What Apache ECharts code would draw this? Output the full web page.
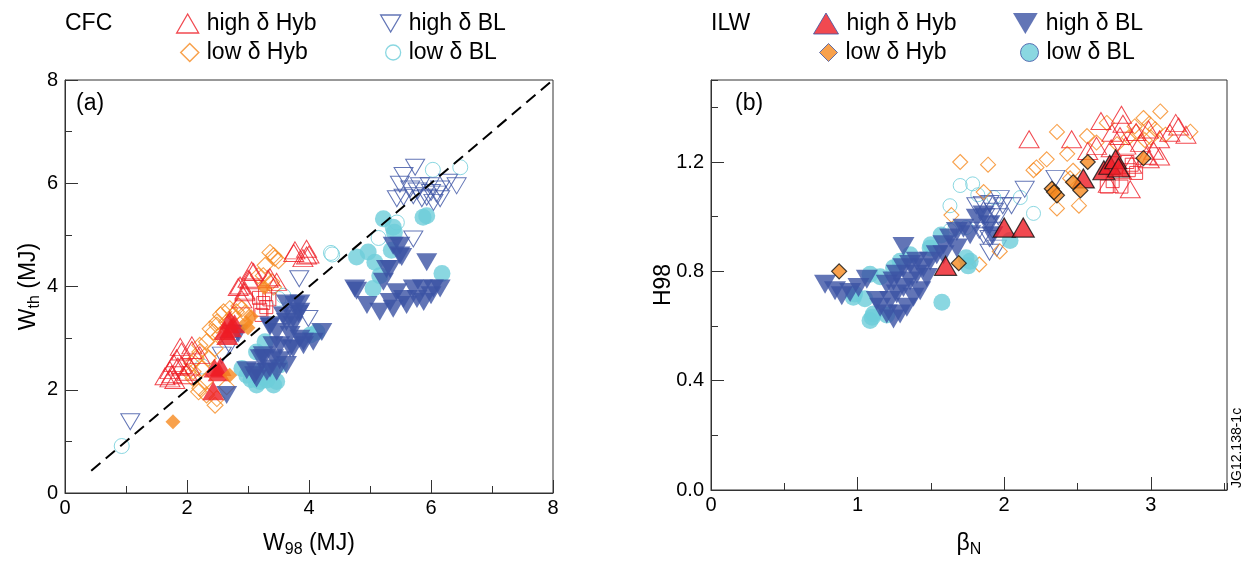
<!DOCTYPE html>
<html>
<head>
<meta charset="utf-8">
<script src="https://cdn.jsdelivr.net/npm/echarts@6/dist/echarts.min.js"></script>
<style>html,body{margin:0;padding:0;background:#fff}#c{width:1250px;height:563px}</style>
</head>
<body>
<div id="c"></div>
<script>
// ---------- Panel (a): W_th vs W98 (MJ) ----------
const aCfcHighHyb = [[1.64,2.26],[1.72,2.22],[1.72,2.38],[1.75,2.30],[1.80,2.19],[1.83,2.61],[1.89,2.83],[1.91,2.48],[1.94,2.28],[1.91,2.74],[2.05,2.45],[2.08,2.86],[2.08,2.77],[2.21,2.67],[2.00,2.35],[1.85,2.45],[1.78,2.52],
  [2.87,4.02],[2.95,3.89],[2.95,3.92],[3.00,4.15],[3.03,4.12],[3.06,4.31],[3.09,4.28],[3.33,4.15],[3.36,4.18],[3.47,4.09],[2.90,3.75],[2.84,3.99],
  [3.75,4.65],[3.77,4.70],[3.90,4.55],[3.96,4.73],[3.96,4.60],[4.00,4.62]];
const aCfcSquares = [[3.18,3.78],[3.25,3.68],[3.30,3.60],[3.20,3.55],[3.35,3.75],[3.28,3.85],[3.22,3.45]];
const aCfcLowHyb = [[2.19,1.96],[2.32,1.90],[2.46,1.70],[2.49,1.83],[2.21,2.03],[2.30,2.16],[2.10,2.22],[2.10,2.35],[2.24,2.41],[2.02,2.35],[2.08,2.51],[2.15,2.61],[2.21,2.73],[2.21,2.86],[2.35,2.61],[2.32,2.93],[2.46,2.80],[2.43,3.12],[2.38,3.18],[2.49,3.25],[2.54,3.06],[2.49,3.31],[2.65,3.31],[2.60,3.51],[2.70,3.57],[2.76,3.45],[2.81,3.51],[2.90,3.57],[2.55,3.45],[2.65,2.06],[3.17,4.21],[3.25,4.21],[3.28,4.41],[3.39,4.09],[3.42,3.99],[3.36,4.66],[3.42,4.60],[3.44,4.55],[3.50,4.50],[2.85,3.62],[2.95,3.48]];
const aCfcHighBL = [[1.07,1.38],[2.57,2.67],[2.70,2.86],[2.79,3.09],[3.84,4.15],[3.99,3.38],[5.71,4.92],
  [5.74,6.31],[5.55,6.15],[5.49,5.98],[5.66,5.89],[5.82,5.95],[5.98,5.95],[6.15,5.89],[6.42,5.95],[6.28,6.02],[5.55,5.73],[5.71,5.76],[5.93,5.73],[6.04,5.63],[6.15,5.70],[5.44,5.70],[6.09,5.79],[5.85,5.70],[5.78,5.85],[6.00,5.82]];
const aCfcLowBL = [[0.93,0.91],[2.25,2.45],[3.50,3.76],[3.58,3.82],[4.36,4.65],[4.38,4.62],[5.14,4.94],[5.44,5.24],[6.03,6.26],[6.48,6.31]];
const aIlwHighHyb = [[2.43,1.98],[2.45,2.42],[2.52,2.35],[2.55,2.45],[2.62,3.15],[2.66,3.05],[2.70,3.35],[2.78,3.28],[2.72,3.20]];
const aIlwLowHyb = [[1.77,1.38],[2.70,2.28],[2.97,3.30],[3.05,3.42],[3.00,3.20],[3.27,3.98]];
const aIlwHighBL = [[2.65,1.90],[2.98,2.38],[3.14,2.35],[3.14,2.22],[3.11,2.28],[3.25,2.61],[3.25,2.67],[3.31,2.35],[3.36,2.41],[3.20,2.61],[3.42,2.61],[3.41,2.86],[3.52,2.57],[3.52,2.86],[3.47,3.12],[3.36,3.22],[3.36,3.25],[3.63,3.31],[3.58,3.44],[3.63,3.67],[3.74,3.25],[3.74,3.38],[3.77,3.64],[3.83,3.47],[3.85,3.67],[3.85,3.51],[3.69,2.80],[3.74,2.80],[3.69,3.06],[3.85,2.99],[3.91,2.86],[3.91,2.93],[4.07,2.93],[4.21,3.12],[3.63,2.48],[3.47,2.35],[2.84,3.09],
  [4.75,3.96],[4.78,3.92],[4.95,3.64],[5.16,3.51],[5.22,4.09],[5.27,4.34],[5.33,4.34],[5.33,3.70],[5.38,3.57],[5.38,4.79],[5.44,3.89],[5.49,4.79],[5.49,4.60],[5.52,4.57],[5.55,3.76],[5.60,3.64],[5.71,3.96],[5.77,3.76],[5.86,3.96],[5.88,3.70],[5.93,4.47],[6.00,3.83],[6.04,3.96],[6.15,3.96]];
const aIlwLowBL = [[2.90,2.41],[2.98,2.28],[3.14,2.09],[3.20,2.16],[3.31,2.19],[3.42,2.09],[3.47,2.16],[3.20,2.35],[3.36,2.35],[3.14,2.73],[3.28,2.93],[3.52,2.48],[4.02,3.06],[4.13,3.12],[3.05,2.20],[3.25,2.25],
  [4.78,4.57],[4.97,4.67],[5.08,4.47],[5.16,4.21],[5.05,3.96],[5.22,5.31],[5.38,5.15],[5.35,4.70],[5.40,5.05],[5.87,5.34],[5.93,5.37],[6.18,4.25]];
const aUnityLine = [0.43, 7.95];

// ---------- Panel (b): H98 vs beta_N ----------
const bCfcHighHyb = [[2.17,1.283],[2.46,1.283],[2.57,1.24],[2.63,1.259],[2.73,1.25],[2.735,1.307],[2.79,1.295],[2.80,1.373],[2.81,1.34],[2.83,1.26],[2.87,1.19],[2.80,1.17],[2.86,1.10],[2.90,1.31],[2.985,1.319],[2.97,1.223],[2.99,1.21],[3.02,1.241],[3.06,1.283],[3.06,1.22],[3.13,1.307],[3.17,1.343],[3.19,1.33],[3.24,1.30],[2.71,1.12],[2.66,1.35],[2.93,1.27]];
const bCfcSquares = [[2.70,1.11],[2.74,1.13],[2.80,1.11],[2.85,1.17],[2.87,1.19],[2.90,1.16],[2.84,1.20]];
const bCfcLowHyb = [[1.64,1.006],[1.70,1.20],[1.83,0.825],[1.86,1.09],[1.89,1.19],[1.97,0.873],[2.20,1.17],[2.22,1.18],[2.29,1.21],[2.36,1.31],[2.36,1.03],[2.43,1.23],[2.45,1.14],[2.47,1.168],[2.51,1.04],[2.565,1.295],[2.63,1.271],[2.70,1.343],[2.77,1.265],[2.89,1.33],[2.90,1.31],[2.95,1.361],[2.96,1.28],[2.99,1.34],[3.03,1.32],[3.065,1.385],[3.27,1.311],[3.10,1.30],[3.00,1.29],[2.85,1.29]];
const bCfcHighBL = [[1.81,1.04],[1.83,0.95],[1.855,1.045],[1.86,0.93],[1.89,0.97],[1.90,1.048],[1.90,0.92],[1.90,0.87],[1.93,1.02],[1.95,0.885],[1.96,1.0],[1.97,1.066],[1.99,1.04],[2.05,1.04],[2.14,1.10],[2.35,1.14],[1.87,1.0],[1.92,0.95]];
const bCfcLowBL = [[1.63,1.04],[1.63,0.95],[1.665,0.958],[1.70,1.114],[1.74,0.96],[1.785,1.12],[1.82,1.08],[1.93,1.07],[2.11,1.07],[2.20,1.012]];
const bIlwHighHyb = [[1.60,0.82],[2.00,0.96],[2.13,0.96],[2.54,1.14],[2.68,1.17],[2.72,1.19],[2.76,1.21],[2.78,1.18]];
const bIlwLowHyb = [[0.874,0.80],[1.69,0.83],[2.325,1.102],[2.36,1.078],[2.47,1.126],[2.52,1.096],[2.57,1.20],[2.95,1.214],[2.34,1.09]];
const bIlwHighBL = [[0.778,0.753],[0.846,0.729],[0.892,0.711],[0.949,0.723],[1.006,0.741],[1.063,0.771],[1.313,0.891],[1.154,0.669],[1.199,0.644],[1.245,0.626],[1.290,0.644],[1.336,0.669],[1.222,0.693],[1.267,0.717],[1.313,0.741],[1.358,0.765],[1.404,0.789],[1.449,0.813],[1.267,0.789],[1.313,0.813],[1.358,0.825],[1.404,0.837],[1.495,0.837],[1.540,0.861],[1.586,0.897],[1.631,0.922],[1.677,0.946],[1.722,0.958],[1.768,0.934],[1.813,0.994],[1.859,1.006],[1.677,0.885],[1.586,0.861],[1.472,0.777],[1.427,0.729],[1.381,0.705],[1.199,0.753],[1.245,0.765],[1.131,0.693],[1.90,0.97],[1.92,0.93]];
const bIlwLowBL = [[0.971,0.705],[1.085,0.789],[1.108,0.644],[1.085,0.620],[1.10,0.632],[1.154,0.78],[1.199,0.64],[1.245,0.813],[1.290,0.837],[1.358,0.861],[1.495,0.885],[1.50,0.897],[1.57,0.933],[1.575,0.687],[1.74,0.85],[1.754,0.82],[1.768,0.837],[2.04,0.913],[0.98,0.717],[1.05,0.70]];

// axis ranges / tick steps
const aAxisRange = [0, 8, 2];        // min, max, major step (x and y)
const bXRange = [0, 3.52, 1, 0.5];   // min, max, major, minor
const bYRange = [0, 1.5, 0.4, 0.2];

const FONT = "'Liberation Sans', Arial, Helvetica, sans-serif";
const TF = 23;   // title / legend font size
const LF = 20;   // tick label font size
const RED = '#ED1C24', ORANGE = '#F6891F', BLUE = '#3B53A4', CYAN = '#6DCDDA';
const DOWN = 'path://M0,0 L20,0 L10,17 Z';
const AXC = '#333';

function open(c, w){ return {color:'rgba(255,255,255,0)', borderColor:c, borderWidth:w || 1}; }
function fill(c, b){ return b ? {color:c, borderColor:'#111', borderWidth:1.2} : {color:c, borderWidth:0}; }
function sc(name, data, g, symbol, size, style){
  return {type:'scatter', name, data, xAxisIndex: g===0?0:1, yAxisIndex: g===0?0:1,
    symbol, symbolSize:size, itemStyle:style, silent:true, emphasis:{disabled:true}};
}

const series = [
  {type:'line', name:'unity', data:[[aUnityLine[0],aUnityLine[0]],[aUnityLine[1],aUnityLine[1]]], xAxisIndex:0, yAxisIndex:0,
   symbol:'none', silent:true, lineStyle:{color:'#000', width:2, type:[12,7]}},
  // panel a
  sc('CFC low δ BL', aCfcLowBL, 0, 'circle', 15, open(CYAN)),
  sc('CFC high δ BL', aCfcHighBL, 0, DOWN, [19,16], open(BLUE)),
  sc('CFC low δ Hyb', aCfcLowHyb, 0, 'diamond', [16,16], open(ORANGE, 1.1)),
  sc('CFC sq', aCfcSquares, 0, 'rect', [13,13], open(RED)),
  sc('CFC high δ Hyb', aCfcHighHyb, 0, 'triangle', [20,17], open(RED)),
  sc('ILW low δ BL', aIlwLowBL, 0, 'circle', 17, fill(CYAN)),
  sc('ILW high δ BL', aIlwHighBL, 0, DOWN, [21,18], fill(BLUE)),
  sc('ILW high δ Hyb', aIlwHighHyb, 0, 'triangle', [22,19], fill(RED)),
  sc('ILW low δ Hyb', aIlwLowHyb, 0, 'diamond', [15,15], fill(ORANGE)),
  // panel b
  sc('CFC low δ BL', bCfcLowBL, 1, 'circle', 14, open(CYAN)),
  sc('CFC high δ BL', bCfcHighBL, 1, DOWN, [19,16], open(BLUE)),
  sc('CFC low δ Hyb', bCfcLowHyb, 1, 'diamond', [15,15], open(ORANGE, 1.1)),
  sc('CFC sq', bCfcSquares, 1, 'rect', [13,13], open(RED)),
  sc('CFC high δ Hyb', bCfcHighHyb, 1, 'triangle', [20,17], open(RED)),
  sc('ILW low δ BL', bIlwLowBL, 1, 'circle', 17, fill(CYAN)),
  sc('ILW high δ BL', bIlwHighBL, 1, DOWN, [22,19], fill(BLUE)),
  sc('ILW high δ Hyb', bIlwHighHyb, 1, 'triangle', [22,19], fill(RED, true)),
  sc('ILW low δ Hyb', bIlwLowHyb, 1, 'diamond', [15,15], fill(ORANGE, true))
];

function leg(name, left, top, icon, w, h, style){
  return {left, top, padding:0, itemWidth:w, itemHeight:h, selectedMode:false,
    data:[{name, icon, itemStyle:style}],
    formatter: n => n.replace(/^(CFC|ILW) /,''),
    textStyle:{fontSize:TF, fontFamily:FONT, color:'#000', padding:[0,0,0,3]}};
}
const R1 = 12, R2 = 41;
const legends = [
  leg('CFC high δ Hyb', 176, R1, 'triangle', 22, 19, open(RED, 1.3)),
  leg('CFC high δ BL', 380, R1, DOWN, 20, 18, open(BLUE, 1.3)),
  leg('CFC low δ Hyb', 180, R2, 'diamond', 18, 18, open(ORANGE, 1.5)),
  leg('CFC low δ BL', 385, R2, 'circle', 15, 15, open(CYAN, 1.3)),
  leg('ILW high δ Hyb', 813, R1, 'triangle', 25, 21, {color:RED, borderColor:BLUE, borderWidth:1}),
  leg('ILW high δ BL', 1013, R1, DOWN, 25, 21, {color:BLUE, borderWidth:0}),
  leg('ILW low δ Hyb', 819, R2, 'diamond', 18, 18, {color:ORANGE, borderColor:BLUE, borderWidth:1}),
  leg('ILW low δ BL', 1020, R2, 'circle', 18, 18, {color:CYAN, borderColor:BLUE, borderWidth:1})
];

const lbl = {fontSize:LF, fontFamily:FONT, color:'#000'};
const rich = {a:{fontSize:TF, fontFamily:FONT, color:'#000'}, s:{fontSize:16, fontFamily:FONT, color:'#000', padding:[12,0,0,0]}};

const option = {
  animation:false,
  backgroundColor:'#fff',
  grid:[
    {left:65, top:80, width:488, height:415, show:true, borderColor:AXC, borderWidth:1},
    {left:711, top:80, width:516, height:415, show:true, borderColor:AXC, borderWidth:1}
  ],
  legend: legends,
  xAxis:[
    {gridIndex:0, type:'value', min:aAxisRange[0], max:aAxisRange[1], interval:aAxisRange[2],
     axisLine:{lineStyle:{color:AXC}}, axisTick:{inside:true, length:13, lineStyle:{color:AXC}},
     minorTick:{show:true, splitNumber:2, length:7, lineStyle:{color:AXC}},
     splitLine:{show:false}, axisLabel:{...lbl, margin:5},
     name:'{a|W}{s|98}{a| (MJ)}', nameLocation:'middle', nameGap:37, nameMoveOverlap:false, nameTextStyle:{rich}},
    {gridIndex:1, type:'value', position:'bottom', min:bXRange[0], max:bXRange[1], interval:bXRange[2],
     axisLine:{lineStyle:{color:AXC}}, axisTick:{inside:true, length:13, lineStyle:{color:AXC}},
     splitLine:{show:false}, axisLabel:{...lbl, margin:5, showMaxLabel:false},
     name:'{a|β}{s|N}', nameLocation:'middle', nameGap:40, nameMoveOverlap:false, nameTextStyle:{rich}},
    {gridIndex:1, type:'value', position:'bottom', min:bXRange[0], max:bXRange[1], interval:bXRange[3],
     axisLine:{show:false}, axisTick:{inside:true, length:7, lineStyle:{color:AXC}},
     splitLine:{show:false}, axisLabel:{show:false}}
  ],
  yAxis:[
    {gridIndex:0, type:'value', min:aAxisRange[0], max:aAxisRange[1], interval:aAxisRange[2],
     axisLine:{show:true, lineStyle:{color:AXC}}, axisTick:{show:true, inside:true, length:13, lineStyle:{color:AXC}},
     minorTick:{show:true, splitNumber:2, length:7, lineStyle:{color:AXC}},
     splitLine:{show:false}, axisLabel:{...lbl, margin:7},
     name:'{a|W}{s|th}{a| (MJ)}', nameLocation:'middle', nameGap:21, nameTextStyle:{rich}},
    {gridIndex:1, type:'value', position:'left', min:bYRange[0], max:bYRange[1], interval:bYRange[2],
     axisLine:{show:true, lineStyle:{color:AXC}}, axisTick:{show:true, inside:true, length:13, lineStyle:{color:AXC}},
     splitLine:{show:false}, axisLabel:{...lbl, margin:7, showMaxLabel:false, formatter:v=>v.toFixed(1)},
     name:'H98', nameLocation:'middle', nameGap:36, nameMoveOverlap:false, nameTextStyle:{fontSize:TF, fontFamily:FONT, color:'#000'}},
    {gridIndex:1, type:'value', position:'left', min:bYRange[0], max:bYRange[1], interval:bYRange[3],
     axisLine:{show:false}, axisTick:{show:true, inside:true, length:7, lineStyle:{color:AXC}},
     splitLine:{show:false}, axisLabel:{show:false}}
  ],
  graphic:[
    {type:'text', left:65, top:12, style:{text:'CFC', font:TF+'px '+FONT, fill:'#000'}},
    {type:'text', left:711, top:12, style:{text:'ILW', font:TF+'px '+FONT, fill:'#000'}},
    {type:'text', left:76, top:92, style:{text:'(a)', font:TF+'px '+FONT, fill:'#000'}},
    {type:'text', left:735, top:92, style:{text:'(b)', font:TF+'px '+FONT, fill:'#000'}},
    {type:'text', x:1230, y:488, rotation:Math.PI/2, style:{text:'JG12.138-1c', font:'14px '+FONT, fill:'#000'}}
  ],
  series
};
const chart = echarts.init(document.getElementById('c'), null, {renderer:'canvas'});
chart.setOption(option);
</script>
</body>
</html>
